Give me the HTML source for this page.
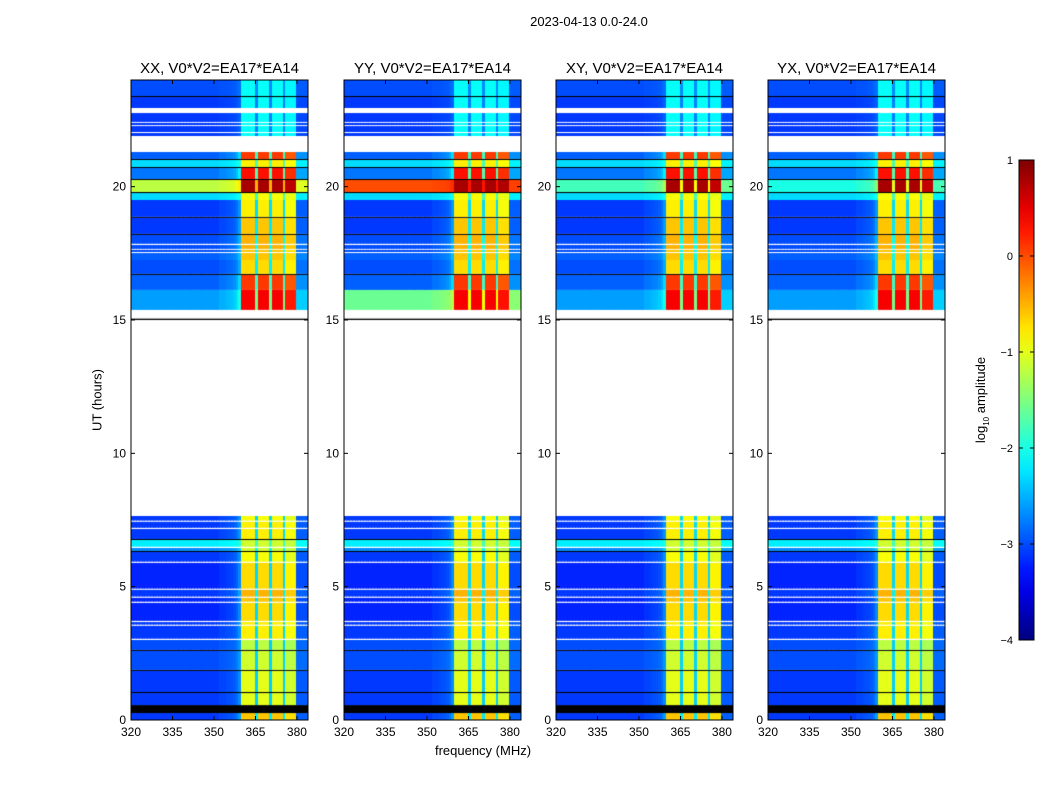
<!DOCTYPE html>
<html><head><meta charset="utf-8"><style>
body{margin:0;background:#fff;width:1050px;height:800px;position:relative;overflow:hidden;font-family:"Liberation Sans",sans-serif;color:#000}
.t{position:absolute;white-space:nowrap}
</style></head><body>
<div class="t" style="left:0;width:1178px;text-align:center;top:14px;font-size:13px">2023-04-13 0.0-24.0</div>
<div class="t" style="left:97px;top:400px;font-size:13px;transform:translate(-50%,-50%) rotate(-90deg)">UT (hours)</div>
<div class="t" style="left:483px;top:743px;font-size:13px;transform:translateX(-50%)">frequency (MHz)</div>
<div class="t" style="left:982px;top:400px;font-size:13px;transform:translate(-50%,-50%) rotate(-90deg)">log<sub style="font-size:8px">10</sub> amplitude</div>
<div id="panels"></div>
<svg id="cb" width="1050" height="800" style="position:absolute;left:0;top:0"></svg>
<script>
const panelTitles=["XX, V0*V2=EA17*EA14","YY, V0*V2=EA17*EA14","XY, V0*V2=EA17*EA14","YX, V0*V2=EA17*EA14"];
const panelLefts=[131,344,556,768];
const yTicks=[0,5,10,15,20];
const xTicks=[320,335,350,365,380];
const cbTicks=[1,0,-1,-2,-3,-4];
const chanFreqs=[];for(let f=320;f<384;f++)chanFreqs.push(f);
const chanWeight=[0,0,0,0,0,0,0,0,0,0,0,0,0,0,0,0,0,0,0,0,0,0,0,0,0,0,0,0,0,0,0,0,0.03,0.03,0.04,0.05,0.06,0.08,0.12,0.2,
1,1,1,1,1,0.35,1,1,1,1,0.35,1,1,1,1,0.35,0.95,0.95,0.95,0.95,0.08,0.08,0.08,0.08];
// [startHour,endHour,bandLevel,offLevel] ; 'k' black, 'w' blank
const segments=[
[0,0.26,-0.6,-3.1],[0.26,0.56,'k'],[0.56,1.01,-1.0,-3.1],[1.01,1.05,'k'],[1.05,1.84,-1.0,-3.1],[1.84,1.88,'k'],
[1.88,2.59,-1.1,-3.0],[2.59,2.63,'k'],[2.63,3.0,-1.2,-3.0],[3.0,3.05,'w'],[3.05,3.53,-0.8,-3.1],[3.53,3.58,'w'],
[3.58,3.67,-0.8,-3.1],[3.67,3.72,'w'],[3.72,4.39,-0.7,-3.2],[4.39,4.44,'w'],[4.44,4.58,-0.6,-3.2],[4.58,4.63,'w'],
[4.63,4.88,-0.5,-3.1],[4.88,4.93,'w'],[4.93,5.89,-0.7,-3.2],[5.89,5.94,'w'],[5.94,6.3,-0.9,-3.1],[6.3,6.34,'k'],
[6.34,6.45,-1.1,-2.7],[6.45,6.5,'w'],[6.5,6.75,-1.1,-2.2],[6.75,6.79,'k'],[6.79,7.16,-0.8,-3.1],[7.16,7.21,'w'],
[7.21,7.43,-0.8,-3.1],[7.43,7.48,'w'],[7.48,7.65,-0.9,-3.1],[7.65,15.0,'w'],[15.0,15.05,'k'],[15.05,15.38,'w'],
[15.38,16.13,0.4,-2.6],[16.13,16.69,0.1,-2.9],[16.69,16.73,'k'],[16.73,17.25,-0.7,-3.0],[17.25,17.51,-0.6,-2.9],
[17.51,17.55,'w'],[17.55,17.63,-0.6,-3.0],[17.63,17.67,'w'],[17.67,17.81,-0.5,-3.0],[17.81,17.86,'w'],
[17.86,18.19,-0.5,-3.0],[18.19,18.23,'k'],[18.23,18.83,-0.6,-3.1],[18.83,18.87,'k'],[18.87,19.5,-0.8,-3.1],
[19.5,19.76,-0.9,-2.3],[19.76,19.8,'k'],[19.8,20.25,0.8,-1.5],[20.25,20.29,'k'],[20.29,20.7,0.3,-2.8],[20.7,20.74,'k'],
[20.74,21.0,-0.8,-2.3],[21.0,21.04,'k'],[21.04,21.3,0.1,-2.9],[21.3,21.9,'w'],[21.9,22.01,-2.1,-3.1],[22.01,22.05,'w'],
[22.05,22.27,-2.1,-3.1],[22.27,22.31,'w'],[22.31,22.39,-2.1,-3.1],[22.39,22.43,'w'],[22.43,22.76,-2.1,-3.1],
[22.76,22.95,'w'],[22.95,23.36,-2.1,-3.1],[23.36,23.4,'k'],[23.4,24,-2.1,-3.0]];
// per-panel off-band overrides: [panelIndex,startHour,endHour,offLevel]
const offOverrides=[[1,19.8,20.25,0.0],[1,15.6,16.0,-1.6],[0,19.8,20.25,-1.2],[2,19.8,20.25,-1.8],[3,19.8,20.25,-2.0]];

const W=177,H=640,TOP=80,F0=320,F1=384,T0=0,T1=24;
const xs=f=>(f-F0)/(F1-F0)*W, ys=h=>H-(h-T0)/(T1-T0)*H;
function jet(v){let t=Math.max(0,Math.min(1,(v+4)/5));
 const r=Math.max(0,Math.min(1,1.5-Math.abs(4*t-3))),g=Math.max(0,Math.min(1,1.5-Math.abs(4*t-2))),b=Math.max(0,Math.min(1,1.5-Math.abs(4*t-1)));
 return `rgb(${r*255|0},${g*255|0},${b*255|0})`;}
const host=document.getElementById('panels');
panelLefts.forEach((L,p)=>{
 const d=document.createElement('div');
 
 
 d.style.cssText=`position:absolute;left:${L}px;top:${TOP}px;width:${W}px;height:${H}px`;
 const c=document.createElement('canvas');c.width=W;c.height=H;
 
 
 c.style.cssText='position:absolute;left:0;top:0';
 const g=c.getContext('2d');g.fillStyle='#fff';g.fillRect(0,0,W,H);
 segments.forEach(s=>{
  const y0=ys(s[1]),y1=ys(s[0]);
  if(s[2]==='w')return;
  if(s[2]==='k'){g.fillStyle='#000';g.fillRect(0,y0,W,Math.max(1,y1-y0));return;}
  let off=s[3];offOverrides.forEach(o=>{if(o[0]===p&&s[0]<o[2]&&s[1]>o[1])off=o[3];});
  chanFreqs.forEach((f,i)=>{const w=chanWeight[i];const v=off+w*(s[2]-off);
   g.fillStyle=jet(v);const x0=xs(f),x1=xs(f+1);g.fillRect(Math.floor(x0),y0,Math.ceil(x1)-Math.floor(x0),y1-y0);});
 });
 d.appendChild(c);
 const sv=document.createElementNS('http://www.w3.org/2000/svg','svg');
 sv.setAttribute('width',W+60);sv.setAttribute('height',H+40);
 sv.style.cssText='position:absolute;left:-30px;top:0;overflow:visible';
 let h=`<rect x="30" y="0" width="${W}" height="${H}" fill="none" stroke="#000" stroke-width="1"/>`;
 yTicks.forEach(t=>{const y=ys(t);h+=`<line x1="30" x2="34" y1="${y}" y2="${y}" stroke="#000"/><line x1="${30+W}" x2="${26+W}" y1="${y}" y2="${y}" stroke="#000"/><text x="25" y="${y+4}" text-anchor="end" font-size="12">${t}</text>`;});
 xTicks.forEach(t=>{const x=30+xs(t);h+=`<line x1="${x}" x2="${x}" y1="${H}" y2="${H-4}" stroke="#000"/><line x1="${x}" x2="${x}" y1="0" y2="4" stroke="#000"/><text x="${x}" y="${H+16}" text-anchor="middle" font-size="12">${t}</text>`;});
 h+=`<text x="${30+W/2}" y="-7" text-anchor="middle" font-size="15">${panelTitles[p]}</text>`;
 sv.innerHTML=h;d.appendChild(sv);host.appendChild(d);
});
// colorbar
const cb=document.getElementById('cb');
let s='<defs><linearGradient id="jg" x1="0" y1="1" x2="0" y2="0">';
for(let i=0;i<=20;i++){s+=`<stop offset="${i/20}" stop-color="${jet(-4+5*i/20)}"/>`;}
s+='</linearGradient></defs><rect x="1019" y="160" width="15" height="480" fill="url(#jg)" stroke="#000"/>';
cbTicks.forEach(t=>{const y=160+(1-t)*96;s+=`<line x1="1019" x2="1023" y1="${y}" y2="${y}" stroke="#000"/><line x1="1034" x2="1030" y1="${y}" y2="${y}" stroke="#000"/><text x="1013" y="${y+4}" text-anchor="end" font-size="11">${t<0?'\u2212'+(-t):t}</text>`;});
cb.innerHTML=s;
</script>
</body></html>
